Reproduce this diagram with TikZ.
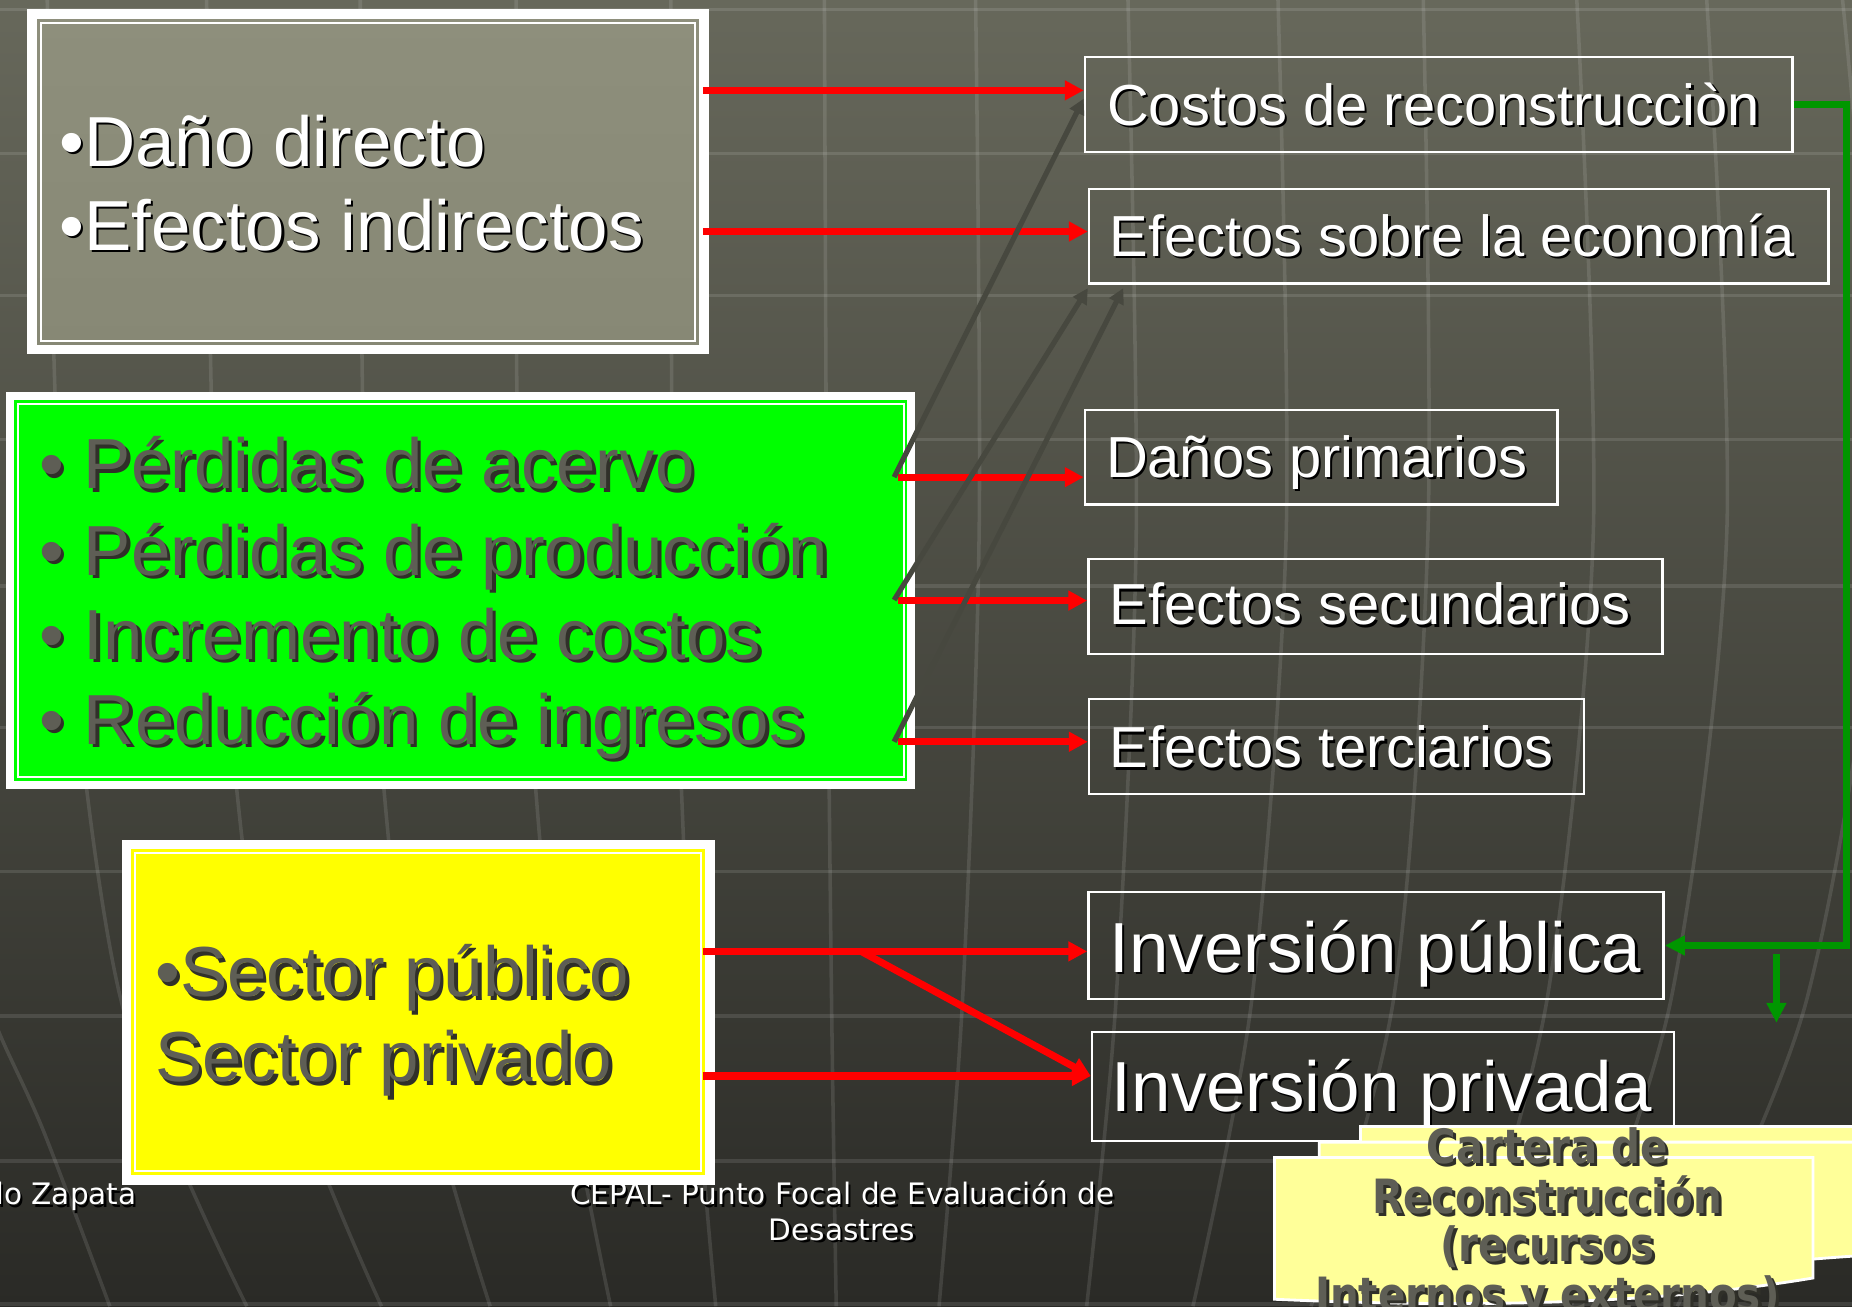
\documentclass[tikz,border=0pt]{standalone}
\usepackage{fontspec}
\usepackage{graphicx}
\setmainfont{Liberation Sans}
\newfontfamily\tahfont{DejaVu Sans}
\usetikzlibrary{arrows.meta}
\definecolor{bgtop}{HTML}{67685B}
\definecolor{bgmid}{HTML}{4A4B42}
\definecolor{bgbot}{HTML}{2A2A26}
\definecolor{grayfilltop}{HTML}{8E8F7C}
\definecolor{grayfillbot}{HTML}{878875}
\definecolor{txtg}{HTML}{5E5E55}
\definecolor{shdk}{HTML}{303029}
\definecolor{arrgray}{HTML}{47483F}
\definecolor{grn}{HTML}{009600}
\definecolor{cartfill}{HTML}{FFFF99}
\definecolor{limefill}{HTML}{00FF00}
\definecolor{yelfill}{HTML}{FFFF00}
\definecolor{redarrc}{HTML}{FF0000}
\newcommand{\shW}[1]{\rlap{\hspace{1pt}\raisebox{-1pt}{\color{black}#1}}{\color{white}#1}}
\newcommand{\shG}[1]{\rlap{\hspace{1.5pt}\raisebox{-1.5pt}{\color{shdk}#1}}{\color{txtg}#1}}
\newcommand{\shC}[1]{\scalebox{0.855}[1]{\shG{#1}}}
\begin{document}
\begin{tikzpicture}[x=0.5pt,y=-0.5pt,
  gridl/.style={white,opacity=0.11,line width=1.5pt},
  framebox/.style={draw=white,inner sep=0pt},
  thinw/.style={draw=white,line width=0.9pt},
  rbox/.style={draw=white,line width=1pt,inner sep=0pt},
  bigtxt/.style={anchor=base west,inner sep=0pt,font=\fontsize{30}{36}\selectfont},
  midtxt/.style={anchor=base west,inner sep=0pt,font=\fontsize{24.5}{30}\selectfont},
  foot/.style={inner sep=0pt,font=\tahfont\fontsize{12.5}{15}\selectfont},
  carttxt/.style={anchor=base,inner sep=0pt,font=\tahfont\bfseries\fontsize{20}{21}\selectfont},
  redarr/.style={draw=redarrc,line width=3pt,-{Triangle[length=8pt,width=8pt]}},
  grayarr/.style={draw=arrgray,line width=2.2pt,-{Triangle[length=6.5pt,width=6.5pt]}},
  grnarr/.style={draw=grn,line width=2.8pt,-{Triangle[length=8.5pt,width=8pt]}},
  sheet/.style={fill=cartfill,draw=white,line width=1.2pt}
]
\useasboundingbox (0,0) rectangle (1568,1106);
\begin{scope}
\clip (0,0) rectangle (1568,1106);
% background
\shade[top color=bgtop, middle color=bgmid, bottom color=bgbot] (0,0) rectangle (1568,1106);
\foreach \yy in {8,130,250,372,496,616,738,860,983,1104}
  \draw[gridl] (0,\yy) -- (1568,\yy);
\foreach \a/\b/\c/\d in {40/52/102/209, 175/183/225/323, 305/310/345/415, 437/440/470/517,
   568/570/585/606, 698/700/704/708, 826/829/815/795, 955/962/945/920, 1082/1089/1060/1010,
   1205/1209/1180/1110, 1335/1349/1310/1240, 1445/1462/1415/1330, 1560/1590/1530/1420}
  \draw[gridl] plot[smooth] coordinates {(\a,0) (\b,450) (\c,845) (\d,1106)};
\draw[gridl] plot[smooth] coordinates {(-20,820) (0,876) (37,958) (93,1106)};

% footer
\node[foot,anchor=base east] (f1) at (116,1020) {\shW{do Zapata}};
\node[foot,anchor=base] (f2) at (713,1020) {\shW{CEPAL- Punto Focal de Evaluación de}};
\node[foot,anchor=base] (f3) at (713,1050) {\shW{Desastres}};

% gray box
\node[framebox,line width=4pt,top color=grayfilltop,bottom color=grayfillbot,minimum width=284.5pt,minimum height=142pt] (gbox) at (311.5,154) {};
\draw[thinw] ([shift={(11.5,11.5)}]gbox.north west) rectangle ([shift={(-11.5,-11.5)}]gbox.south east);
\node[bigtxt] (g1) at (50,141) {\shW{•Daño directo}};
\node[bigtxt] (g2) at (50,212) {\shW{•Efectos indirectos}};

% green box
\node[framebox,line width=3.5pt,fill=limefill,minimum width=381.5pt,minimum height=164.5pt] (lbox) at (390,500) {};
\draw[thinw,line width=0.8pt] ([shift={(10,10)}]lbox.north west) rectangle ([shift={(-10,-10)}]lbox.south east);
\node[bigtxt] (l1) at (33,414) {\shG{• Pérdidas de acervo}};
\node[bigtxt] (l2) at (33,487) {\shG{• Pérdidas de producción}};
\node[bigtxt] (l3) at (33,558) {\shG{• Incremento de costos}};
\node[bigtxt] (l4) at (33,630) {\shG{• Reducción de ingresos}};

% yellow box
\node[framebox,line width=4pt,fill=yelfill,minimum width=247pt,minimum height=142pt] (ybox) at (354,857) {};
\draw[thinw] ([shift={(11.5,11.5)}]ybox.north west) rectangle ([shift={(-11.5,-11.5)}]ybox.south east);
\node[bigtxt] (y1) at (131,844) {\shG{•Sector público}};
\node[bigtxt] (y2) at (131,916) {\shG{Sector privado}};

% right boxes
\node[rbox,minimum width=299.5pt,minimum height=40pt] (costos) at (1218,88.5) {};
\node[midtxt] (costosT) at (937,106) {\shW{Costos de reconstrucciòn}};
\node[rbox,minimum width=313pt,minimum height=40pt] (econ) at (1235,200) {};
\node[midtxt] (econT) at (939,217) {\shW{Efectos sobre la economía}};
\node[rbox,minimum width=200pt,minimum height=40pt] (prim) at (1118.5,387) {};
\node[midtxt] (primT) at (936,404) {\shW{Daños primarios}};
\node[rbox,minimum width=243pt,minimum height=40pt] (secu) at (1164.5,513.5) {};
\node[midtxt] (secuT) at (939,529) {\shW{Efectos secundarios}};
\node[rbox,minimum width=209.5pt,minimum height=40pt] (terc) at (1131.5,632) {};
\node[midtxt] (tercT) at (939,650) {\shW{Efectos terciarios}};
\node[rbox,minimum width=243.5pt,minimum height=45.5pt] (invpub) at (1165,800.5) {};
\node[bigtxt] (invpubT) at (939,823) {\shW{Inversión pública}};
\node[rbox,minimum width=246.5pt,minimum height=46pt] (invpri) at (1171,920) {};
\node[bigtxt] (invpriT) at (941,941) {\shW{Inversión privada}};

% red arrows
\coordinate (t1) at ([yshift=6pt]costos.west);
\coordinate (t2) at ([yshift=2pt]econ.west);
\coordinate (t3) at ([yshift=-8.5pt]prim.west);
\coordinate (t4) at ([yshift=2.5pt]secu.west);
\coordinate (t5) at ([yshift=2pt]terc.west);
\coordinate (t6) at ([yshift=-2.5pt]invpub.west);
\coordinate (t7) at ([yshift=4.5pt]invpri.west);
\coordinate (gx) at ([xshift=-2.5pt]gbox.east);
\coordinate (yx) at ([xshift=-5pt]ybox.east);
\coordinate (lx) at ([xshift=-7.5pt]lbox.east);
\coordinate (split) at (730,806);
\draw[redarr] (gx |- t1) -- (t1);
\draw[redarr] (gx |- t2) -- (t2);
\draw[redarr] (lx |- t3) -- (t3);
\draw[redarr] (lx |- t4) -- (t4);
\draw[redarr] (lx |- t5) -- (t5);
\draw[redarr] (yx |- t6) -- (t6);
\draw[redarr] (yx |- t7) -- (t7);
\draw[redarr] (split) -- (t7);

% gray arrows
\coordinate (s3) at (757,404);
\coordinate (s4) at (757,508);
\coordinate (s5) at (757,628);
\draw[grayarr] (s3) -- ([yshift=2.5pt]costos.west);
\draw[grayarr] (s4) -- ([yshift=-1.5pt]econ.south west);
\draw[grayarr] (s5) -- ([xshift=15pt,yshift=-1.5pt]econ.south west);

% green arrows
\draw[grnarr] (costos.east) -- ++(45,0) |- (invpub.east);
\coordinate (gs) at (1504,808);
\coordinate (ge) at (1504,866);
\draw[grnarr] (gs) -- (ge);

% cartera (multidocument)
\path[sheet] (1152,954) -- (1620,954) -- (1620,1045) -- (1152,1045) -- cycle;
\path[sheet] (1117,967) -- (1620,967) -- (1620,1060) .. controls (1590,1062) and (1560,1064) .. (1535,1066) -- (1117,1066) -- cycle;
\path[sheet] (1079,980) -- (1535,980) -- (1535,1082) .. controls (1440,1098) and (1300,1110) .. (1079,1100) -- cycle;
\node[carttxt] (c1) at (1310,985) {\shC{Cartera de}};
\node[carttxt] (c2) at (1310,1027) {\shC{Reconstrucción}};
\node[carttxt] (c3) at (1310,1068) {\shC{(recursos}};
\node[carttxt] (c4) at (1310,1110) {\shC{Internos y externos)}};
\end{scope}
\end{tikzpicture}
\end{document}
